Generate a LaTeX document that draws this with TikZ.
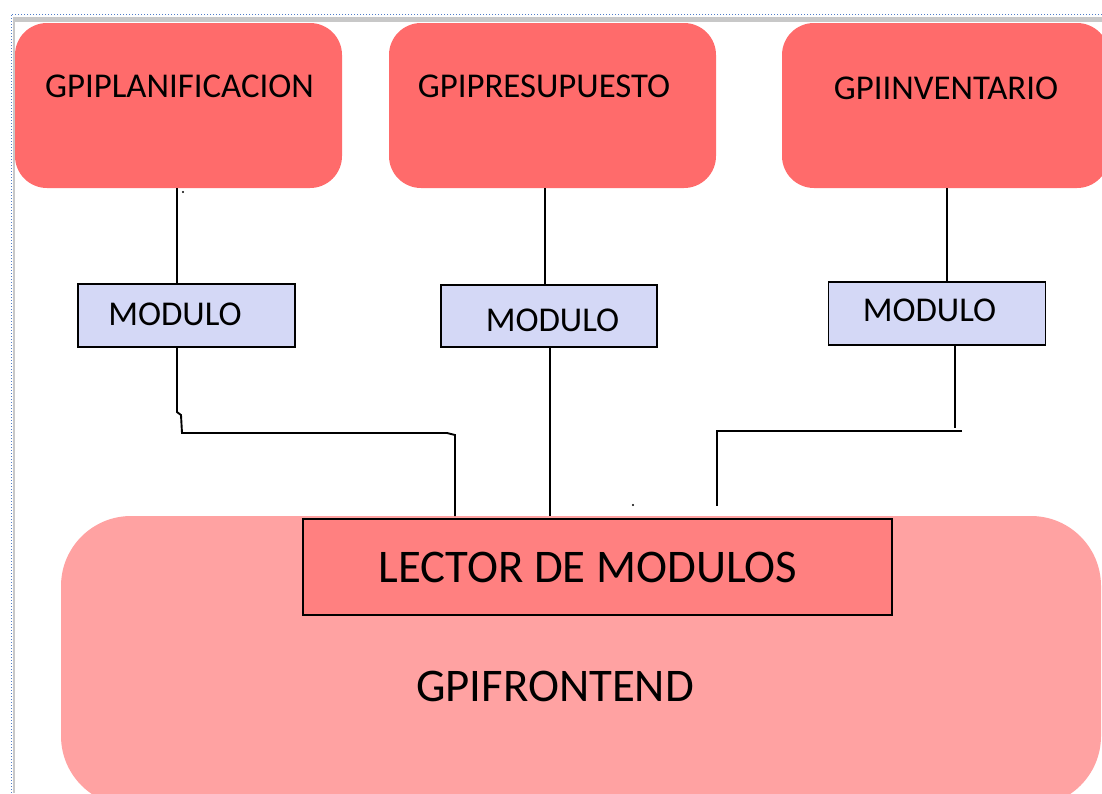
\documentclass[tikz,border=0pt]{standalone}
\usepackage{fontspec}
\setmainfont{Carlito}
\usepackage{tikz}
\usepackage{xcolor}

\definecolor{topred}{RGB}{255,107,107}
\definecolor{modblue}{RGB}{212,216,246}
\definecolor{frontpink}{RGB}{255,162,162}
\definecolor{lectorred}{RGB}{255,128,128}
\definecolor{framedot}{RGB}{80,125,200}
\definecolor{framegray}{RGB}{200,200,200}

\begin{document}
\begin{tikzpicture}[
    x=1pt, y=1pt, yscale=-1, xscale=1,
    every node/.style={inner sep=0pt, outer sep=0pt},
    topbox/.style={fill=topred, rounded corners=32pt, minimum width=327pt, minimum height=165pt},
    modbox/.style={draw=black, line width=1.9pt, fill=modblue, minimum width=217pt, minimum height=63pt},
    frontbox/.style={fill=frontpink, rounded corners=70pt, minimum width=1040pt, minimum height=290pt},
    lectorbox/.style={draw=black, line width=1.9pt, fill=lectorred, minimum width=589pt, minimum height=96pt},
    toptext/.style={font=\fontsize{34.8}{40}\selectfont},
    bigtext/.style={font=\fontsize{46.8}{54}\selectfont},
    wire/.style={line width=1.9pt, black}
]
\useasboundingbox (0,0) rectangle (1102,793);

%==================== Window frame ====================
\fill[framegray] (13,17) rectangle (1102,22);
\fill[framegray] (13,17) rectangle (15,793);
\draw[framedot, dotted, line width=1pt] (1102,14) -- (11,14) -- (11,793);

%==================== Top modules ====================
\node[topbox] (plan) at (178.5,105.5) {};
\node[topbox] (pres) at (552.5,105.5) {};
\node[topbox] (inv)  at (945.5,105.5) {};

\node[toptext] (plantext) at (179.5,86) {GPIPLANIFICACION};
\node[toptext] (prestext) at (544,86)   {GPIPRESUPUESTO};
\node[toptext] (invtext)  at (946,88)   {GPIINVENTARIO};

%==================== Frontend ====================
\node[frontbox]  (front)  at (581,661)   {};
\node[lectorbox] (lector) at (597.5,567) {};

\node[bigtext] (lectortext) at (588,567) {LECTOR DE MODULOS};
\node[bigtext] (fronttext)  at (555,686) {GPIFRONTEND};

%==================== MODULO boxes ====================
\node[modbox] (mod1) at (186.5,315.5) {};
\node[modbox, minimum width=216pt, minimum height=62pt] (mod2) at (549,316) {};
\node[modbox] (mod3) at (937,313.5) {};

\node[toptext] (mod1text) at (175,314)     {MODULO};
\node[toptext] (mod2text) at (552.5,320)   {MODULO};
\node[toptext] (mod3text) at (929.5,310.5) {MODULO};

%==================== Wires ====================
\coordinate (xa) at (177,0);
\coordinate (xb) at (455,0);
\coordinate (xc) at (545,0);
\coordinate (xd) at (550,0);
\coordinate (xe) at (947,0);
\coordinate (xf) at (955,0);

% GPIPLANIFICACION
\draw[wire] (plan.south -| xa) -- (mod1.north -| xa);
\draw[wire] (mod1.south -| xa) -- (177,412) -- (181,415) -- (182,433) -- (447,433) -- (455,435) -- (front.north -| xb);

% GPIPRESUPUESTO
\draw[wire] (pres.south -| xc) -- (mod2.north -| xc);
\draw[wire] (mod2.south -| xd) -- (front.north -| xd);

% GPIINVENTARIO
\coordinate (m3end) at (955,428);
\coordinate (h3end) at (962,431);
\coordinate (v3end) at (717,506);
\draw[wire] (inv.south -| xe) -- (mod3.north -| xe);
\draw[wire] (mod3.south -| xf) -- (m3end);
\draw[wire] (h3end) -- (v3end |- h3end) -- (v3end);

% stray dots
\fill (183,192) circle (1.2);
\fill (633,505) circle (1.2);

\end{tikzpicture}
\end{document}
